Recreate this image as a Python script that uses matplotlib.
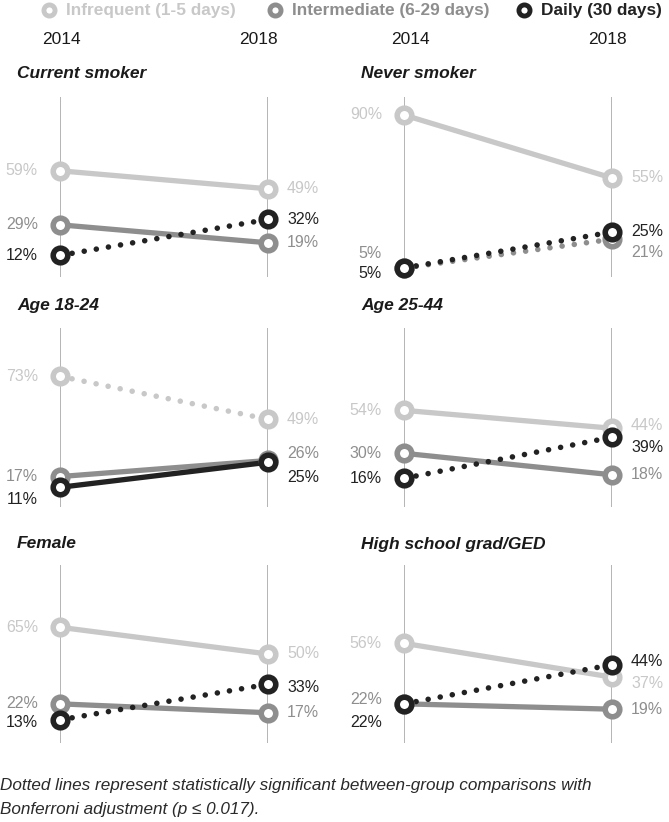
import numpy as np
import matplotlib
matplotlib.use("Agg")
import matplotlib.pyplot as plt
from matplotlib.lines import Line2D

plt.rcParams['font.family'] = ['Liberation Sans', 'DejaVu Sans']

# data
years = ['2014', '2018']
series = ['Infrequent (1-5 days)', 'Intermediate (6-29 days)', 'Daily (30 days)']
panels = ['Current smoker', 'Never smoker', 'Age 18-24', 'Age 25-44', 'Female', 'High school grad/GED']
infrequent = [[59, 49], [90, 55], [73, 49], [54, 44], [65, 50], [56, 37]]
intermediate = [[29, 19], [5, 21], [17, 26], [30, 18], [22, 17], [22, 19]]
daily = [[12, 32], [5, 25], [11, 25], [16, 39], [13, 33], [22, 44]]
# which series are significant (dotted) per panel: infrequent, intermediate, daily
dotted = [[0, 0, 1], [0, 1, 1], [1, 0, 0], [0, 0, 1], [0, 0, 1], [0, 0, 1]]

colors = ['#c8c8c8', '#8e8e8e', '#222222']
values = [infrequent, intermediate, daily]

# label nudges in pixels (left label, right label) per panel per series
nudge = {
    (1, 1): (-14, 13), (1, 2): (6, 0),
    (2, 1): (0, -7), (2, 2): (12, 15),
    (3, 0): (0, -3), (3, 2): (0, 10),
    (4, 2): (3, 3),
    (5, 1): (-4, 0), (5, 2): (19, -3), (5, 0): (0, 6),
}

W, H = 669, 822
fig = plt.figure(figsize=(W / 100, H / 100), dpi=100)

col_x = [60, 404]
row_y = [(97, 277), (328, 507), (565, 743)]
title_y = [73, 305, 544]
pw = 208

for i, name in enumerate(panels):
    r, c = divmod(i, 2)
    top, bot = row_y[r]
    ax = fig.add_axes([col_x[c] / W, 1 - bot / H, pw / W, (bot - top) / H])
    ax.set_xlim(0, 1)
    ax.set_ylim(0, 100)
    ax.axis('off')
    ax.axvline(0, color='#a8a8a8', lw=1.2, zorder=0)
    ax.axvline(1, color='#a8a8a8', lw=1.2, zorder=0)
    for s in range(3):
        v = values[s][i]
        if dotted[i][s]:
            ax.plot([0, 1], v, color=colors[s], lw=4, linestyle=(0, (0.01, 2.2)),
                    dash_capstyle='round', zorder=2 + s, clip_on=False)
        else:
            ax.plot([0, 1], v, color=colors[s], lw=3.8, solid_capstyle='butt',
                    zorder=2 + s, clip_on=False)
        ax.plot([0, 1], v, linestyle='none', marker='o', ms=10.5, mew=4,
                mfc='white', mec=colors[s], zorder=5 + s, clip_on=False)
        dl, dr = nudge.get((i, s), (0, 0))
        ax.annotate(f'{v[0]}%', (0, v[0]), xytext=(-22, -dl), textcoords='offset pixels',
                    ha='right', va='center', fontsize=11.5, color=colors[s], annotation_clip=False)
        ax.annotate(f'{v[1]}%', (1, v[1]), xytext=(19, -dr), textcoords='offset pixels',
                    ha='left', va='center', fontsize=11.5, color=colors[s], annotation_clip=False)
    fig.text((col_x[c] - 43) / W, 1 - title_y[r] / H, name, fontsize=12.5, fontweight='bold',
             fontstyle='italic', color='#1a1a1a', ha='left', va='center')

# year labels
year_x = [(61, 258), (410, 607)]
for c in range(2):
    for k in range(2):
        fig.text(year_x[c][k] / W, 1 - 40 / H, years[k], fontsize=12.5, color='#1a1a1a',
                 ha='center', va='center')

# legend
leg_marker_x = [49, 275, 524]
for s in range(3):
    fig.add_artist(Line2D([leg_marker_x[s] / W], [1 - 10 / H], transform=fig.transFigure,
                          linestyle='none', marker='o', ms=8, mew=3.5, mfc='white',
                          mec=colors[s]))
    fig.text((leg_marker_x[s] + 17) / W, 1 - 10 / H, series[s], fontsize=12.4,
             fontweight='bold', color=colors[s], ha='left', va='center')

fig.text(0.0, 1 - 785 / H,
         'Dotted lines represent statistically significant between-group comparisons with',
         fontsize=12.3, fontstyle='italic', color='#2a2a2a', ha='left', va='center')
fig.text(0.0, 1 - 809 / H, 'Bonferroni adjustment (p \u2264 0.017).',
         fontsize=12.3, fontstyle='italic', color='#2a2a2a', ha='left', va='center')

fig.savefig('out.png', dpi=100)
